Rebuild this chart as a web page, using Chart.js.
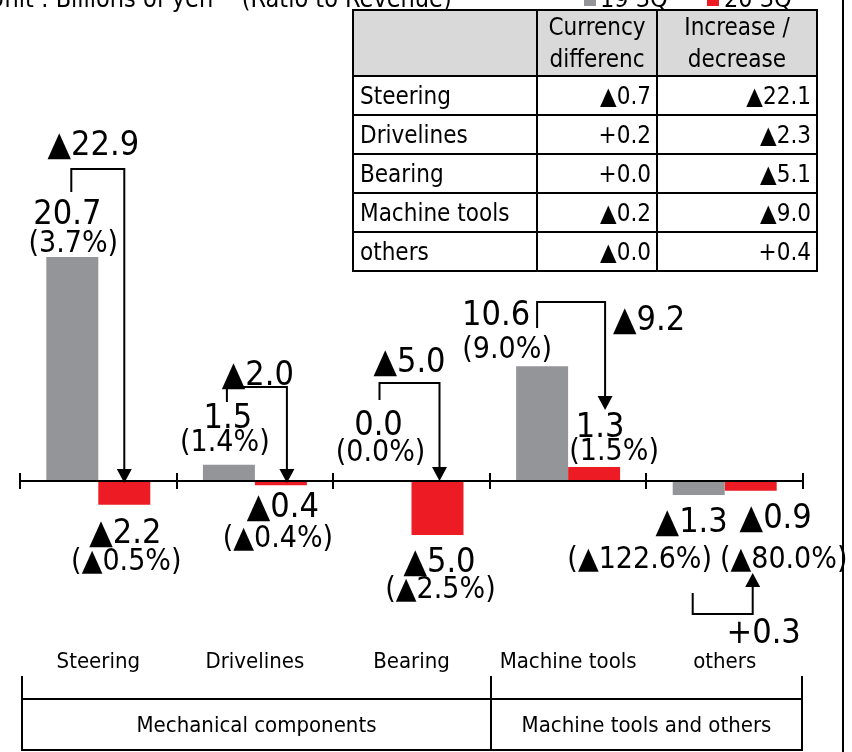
<!DOCTYPE html>
<html>
<head>
<meta charset="utf-8">
<script src="https://cdn.jsdelivr.net/npm/chart.js@4.4.1/dist/chart.umd.min.js"></script>
<style>
  html, body { margin: 0; padding: 0; background: #fff; }
  body { width: 852px; height: 752px; position: relative; overflow: hidden;
         font-family: "DejaVu Sans Condensed", "DejaVu Sans", sans-serif; color: #000; }
  #chart { position: absolute; left: 0; top: 0; }
  .abs { position: absolute; white-space: nowrap; font-size: 25px; line-height: 25px; top: -14px; }
  #unit { left: -12px; }
  .sw { position: absolute; top: -6px; width: 12px; height: 12px; }
  #summary { position: absolute; left: 352px; top: 9px; width: 466px; border-collapse: collapse;
             table-layout: fixed; font-size: 24px; line-height: 30px; }
  #summary td, #summary th { border: 2px solid #000; padding: 0 5px; height: 37px; overflow: hidden; white-space: nowrap; }
  #summary th { background: #d9d9d9; font-weight: normal; height: 58px; line-height: 32px; }
  #summary td.num { text-align: right; }
  #summary td.name { text-align: left; padding-left: 6px; }
  .vl { position: absolute; width: 2px; background: #000; }
  .hl { position: absolute; height: 2px; background: #000; }
  .grp { position: absolute; top: 700px; height: 50px; line-height: 50px; text-align: center; font-size: 22px; }
</style>
</head>
<body>
<canvas id="chart" width="852" height="752"></canvas>
<div id="unit" class="abs">Unit : Billions of yen&nbsp;&nbsp;&nbsp;&nbsp;(Ratio to Revenue)</div>
<span class="sw" style="left:584px; background:#939598"></span>
<div class="abs" style="left:600px;">19 3Q</div>
<span class="sw" style="left:707px; background:#ed1c24"></span>
<div class="abs" style="left:724px;">20 3Q</div>
<table id="summary"></table>

<div class="vl" style="left:842px; top:0; height:752px;"></div>
<div class="vl" style="left:21px; top:676px; height:75px;"></div>
<div class="vl" style="left:490px; top:676px; height:75px;"></div>
<div class="vl" style="left:801px; top:676px; height:75px;"></div>
<div class="hl" style="left:21px; top:698px; width:782px;"></div>
<div class="hl" style="left:21px; top:749px; width:782px;"></div>
<div class="grp" style="left:23px; width:467px;">Mechanical components</div>
<div class="grp" style="left:492px; width:309px;">Machine tools and others</div>

<script>
const categories = ['Steering', 'Drivelines', 'Bearing', 'Machine tools', 'others'];
const prevValues = [20.7, 1.5, 0.0, 10.6, -1.3];      // 19 3Q
const currValues = [-2.2, -0.4, -5.0, 1.3, -0.9];     // 20 3Q
const prevRatios = [3.7, 1.4, 0.0, 9.0, -122.6];
const currRatios = [-0.5, -0.4, -2.5, 1.5, -80.0];
const changes = [-22.9, -2.0, -5.0, -9.2, 0.3];
const currencyDiffs = [-0.7, 0.2, 0.0, -0.2, -0.0];
const incDecs = [-22.1, -2.3, -5.1, -9.0, 0.4];

// label offsets from category centre / zero line, in px
const labelLayout = [
  { pv: [-31, -257], pp: [-25, -229], cv: [27, 62], cp: [28, 89], ch: [-5, -326], br: [-27, -289, -312, 26, 2] },
  { pv: [-27, -53], pp: [-30, -30], cv: [28, 36], cp: [23, 66], ch: [3, -96], br: [-28, -79, -94, 32, 2] },
  { pv: [-33, -46], pp: [-31, -20], cv: [28, 91], cp: [29, 117], ch: [-2, -109], br: [-32, -81, -98, 28, 0] },
  { pv: [-72, -156], pp: [-61, -123], cv: [32, -44], cp: [46, -21], ch: [81, -151], br: [-31, -153, -179, 37, -71] },
  { pv: [-33, 51], pp: [-85, 87], cv: [51, 47], cp: [59, 87], ch: [39, 162], br: [-32, 112, 133, 28, 92] }
];

const FONT = '"DejaVu Sans Condensed", "DejaVu Sans", sans-serif';

function fmt(v, plus) {
  if (v < 0 || Object.is(v, -0)) return '\u25B2' + Math.abs(v).toFixed(1);
  return (plus ? '+' : '') + v.toFixed(1);
}

// summary table
const tbl = document.getElementById('summary');
let html = '<colgroup><col style="width:184px"><col style="width:120px"><col style="width:160px"></colgroup>';
html += '<tr><th></th><th>Currency<br>differenc</th><th>Increase /<br>decrease</th></tr>';
categories.forEach((c, i) => {
  html += `<tr><td class="name">${c}</td><td class="num">${fmt(currencyDiffs[i], true)}</td><td class="num">${fmt(incDecs[i], true)}</td></tr>`;
});
tbl.innerHTML = html;

const annotate = {
  id: 'annotate',
  afterDatasetsDraw(chart) {
    const { ctx, chartArea, scales: { x, y } } = chart;
    const y0 = y.getPixelForValue(0);
    const step = (chartArea.right - chartArea.left) / categories.length;

    ctx.save();
    ctx.strokeStyle = '#000';
    ctx.fillStyle = '#000';
    ctx.lineWidth = 2;

    // zero axis with category separators
    ctx.beginPath();
    ctx.moveTo(chartArea.left, y0);
    ctx.lineTo(chartArea.right, y0);
    for (let i = 0; i <= categories.length; i++) {
      const tx = Math.round(chartArea.left + i * step);
      ctx.moveTo(tx, y0 - 8);
      ctx.lineTo(tx, y0 + 8);
    }
    ctx.stroke();

    ctx.textAlign = 'center';
    ctx.textBaseline = 'alphabetic';
    const text = (s, pos, size, cx) => {
      ctx.font = `${size}px ${FONT}`;
      ctx.fillText(s, cx + pos[0], y0 + pos[1]);
    };

    categories.forEach((c, i) => {
      const cx = x.getPixelForValue(i);
      const L = labelLayout[i];
      text(fmt(prevValues[i]), L.pv, 34, cx);
      text('(' + fmt(prevRatios[i]) + '%)', L.pp, 30, cx);
      text(fmt(currValues[i]), L.cv, 34, cx);
      text('(' + fmt(currRatios[i]) + '%)', L.cp, 30, cx);
      text(fmt(changes[i], true), L.ch, 34, cx);

      // bracket arrow from 19 3Q to 20 3Q
      const [x1, ya, yh, x2, yt] = L.br;
      const ax1 = cx + x1, ax2 = cx + x2;
      const yStart = y0 + ya, yH = y0 + yh, yTip = y0 + yt;
      const dir = yTip > yH ? 1 : -1;
      const head = 14;
      ctx.beginPath();
      ctx.moveTo(ax1, yStart);
      ctx.lineTo(ax1, yH);
      ctx.lineTo(ax2, yH);
      ctx.lineTo(ax2, yTip - dir * head);
      ctx.stroke();
      ctx.beginPath();
      ctx.moveTo(ax2 - 7.5, yTip - dir * head);
      ctx.lineTo(ax2 + 7.5, yTip - dir * head);
      ctx.lineTo(ax2, yTip);
      ctx.closePath();
      ctx.fill();
    });
    ctx.restore();
  }
};

new Chart(document.getElementById('chart'), {
  type: 'bar',
  data: {
    labels: categories,
    datasets: [
      { label: '19 3Q', data: prevValues, backgroundColor: '#939598' },
      { label: '20 3Q', data: currValues, backgroundColor: '#ed1c24' }
    ]
  },
  options: {
    responsive: false,
    animation: false,
    layout: { padding: { left: 20, right: 49, top: 156.4, bottom: 68.7 } },
    datasets: { bar: { categoryPercentage: 0.664, barPercentage: 1, borderWidth: 0 } },
    scales: {
      x: {
        offset: true,
        grid: { display: false, drawTicks: false },
        border: { display: false },
        ticks: { color: '#000', padding: 6, font: { family: FONT, size: 22 } },
        afterFit: s => { s.height = 40; }
      },
      y: { display: false, min: -15, max: 30 }
    },
    plugins: { legend: { display: false }, tooltip: { enabled: false } }
  },
  plugins: [annotate]
});
</script>
</body>
</html>
